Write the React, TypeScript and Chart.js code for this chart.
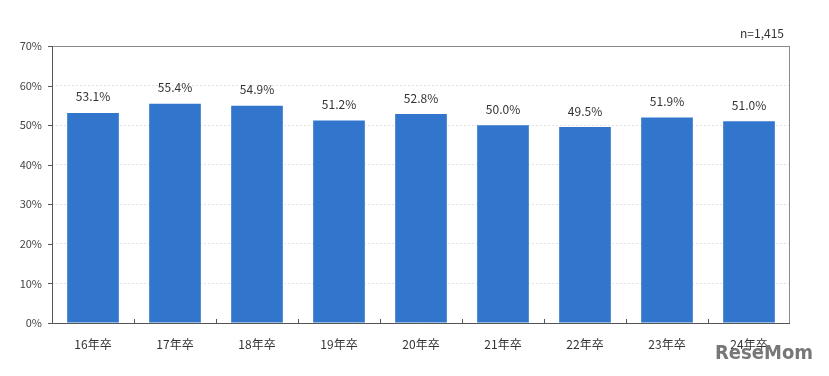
import React, { useEffect, useRef } from "react";
import { Chart, registerables } from "chart.js";

Chart.register(...registerables);

const categories = ["16年卒", "17年卒", "18年卒", "19年卒", "20年卒", "21年卒", "22年卒", "23年卒", "24年卒"];
const values = [53.1, 55.4, 54.9, 51.2, 52.8, 50.0, 49.5, 51.9, 51.0];
const yTicks = [0, 10, 20, 30, 40, 50, 60, 70];
const sampleNote = "n=1,415";
const watermark = "ReseMom";

const FONT = "'Noto Sans CJK JP', 'Noto Sans', sans-serif";

const decorPlugin = {
  id: "decor",
  afterDatasetsDraw(chart: any) {
    const { ctx, chartArea } = chart;
    const meta = chart.getDatasetMeta(0);
    ctx.save();
    // frame
    ctx.strokeStyle = "#8a8a8a";
    ctx.lineWidth = 1;
    ctx.strokeRect(chartArea.left + 0.5, chartArea.top + 0.5, chartArea.right - chartArea.left - 1, chartArea.bottom - chartArea.top);
    // left and bottom axis
    ctx.strokeStyle = "#555";
    ctx.beginPath();
    ctx.moveTo(chartArea.left + 0.5, chartArea.top);
    ctx.lineTo(chartArea.left + 0.5, chartArea.bottom + 0.5);
    ctx.lineTo(chartArea.right, chartArea.bottom + 0.5);
    ctx.stroke();
    // category boundary ticks
    const n = categories.length;
    const w = (chartArea.right - chartArea.left) / n;
    for (let i = 1; i < n; i++) {
      const x = Math.round(chartArea.left + i * w) + 0.5;
      ctx.beginPath();
      ctx.moveTo(x, chartArea.bottom);
      ctx.lineTo(x, chartArea.bottom - 4);
      ctx.stroke();
    }
    // y ticks
    const ys = chart.scales.y;
    for (const t of yTicks) {
      const y = Math.round(ys.getPixelForValue(t)) + 0.5;
      ctx.beginPath();
      ctx.moveTo(chartArea.left - 4, y);
      ctx.lineTo(chartArea.left, y);
      ctx.stroke();
    }
    // value labels
    ctx.fillStyle = "#333";
    ctx.font = `12px ${FONT}`;
    ctx.textAlign = "center";
    ctx.textBaseline = "middle";
    meta.data.forEach((bar: any, i: number) => {
      ctx.fillText(values[i].toFixed(1) + "%", bar.x, bar.y - 16);
    });
    // n note
    ctx.textAlign = "right";
    ctx.fillText(sampleNote, 784, 33);
    // watermark
    ctx.font = `bold 20px 'DejaVu Sans Condensed', 'Liberation Sans Narrow', sans-serif`;
    ctx.fillStyle = "#777";
    ctx.fillText(watermark, 813, 354);
    ctx.restore();
  },
};

export default function App() {
  const ref = useRef<HTMLCanvasElement>(null);
  useEffect(() => {
    if (!ref.current) return;
    const chart = new Chart(ref.current, {
      type: "bar",
      data: {
        labels: categories,
        datasets: [
          {
            data: values,
            backgroundColor: "#3176CC",
            borderWidth: 0,
            categoryPercentage: 0.63,
            barPercentage: 1,
          },
        ],
      },
      options: {
        animation: false,
        responsive: false,
        maintainAspectRatio: false,
        layout: { padding: { left: 0, right: 39, top: 46, bottom: 0 } },
        plugins: { legend: { display: false }, tooltip: { enabled: false } },
        scales: {
          x: {
            grid: { display: false, drawTicks: false },
            border: { display: false },
            ticks: { color: "#333", font: { size: 12, family: FONT }, padding: 14, maxRotation: 0 },
            afterFit: (s: any) => {
              s.height = 53;
            },
          },
          y: {
            min: 0,
            max: 70,
            afterBuildTicks: (s: any) => {
              s.ticks = yTicks.map((v) => ({ value: v }));
            },
            grid: { color: "#e2e2e2", drawTicks: false, lineWidth: 1 },
            border: { display: false, dash: [2, 2] },
            ticks: {
              color: "#444",
              font: { size: 11, family: FONT },
              padding: 10,
              callback: (v: any) => v + "%",
            },
            afterFit: (s: any) => {
              s.width = 52;
            },
          },
        },
      },
      plugins: [decorPlugin],
    });
    return () => chart.destroy();
  }, []);
  return (
    <div style={{ position: "fixed", left: 0, top: 0, width: 829, height: 376, background: "#fff" }}>
      <canvas ref={ref} width={829} height={376} style={{ width: 829, height: 376 }} />
    </div>
  );
}
